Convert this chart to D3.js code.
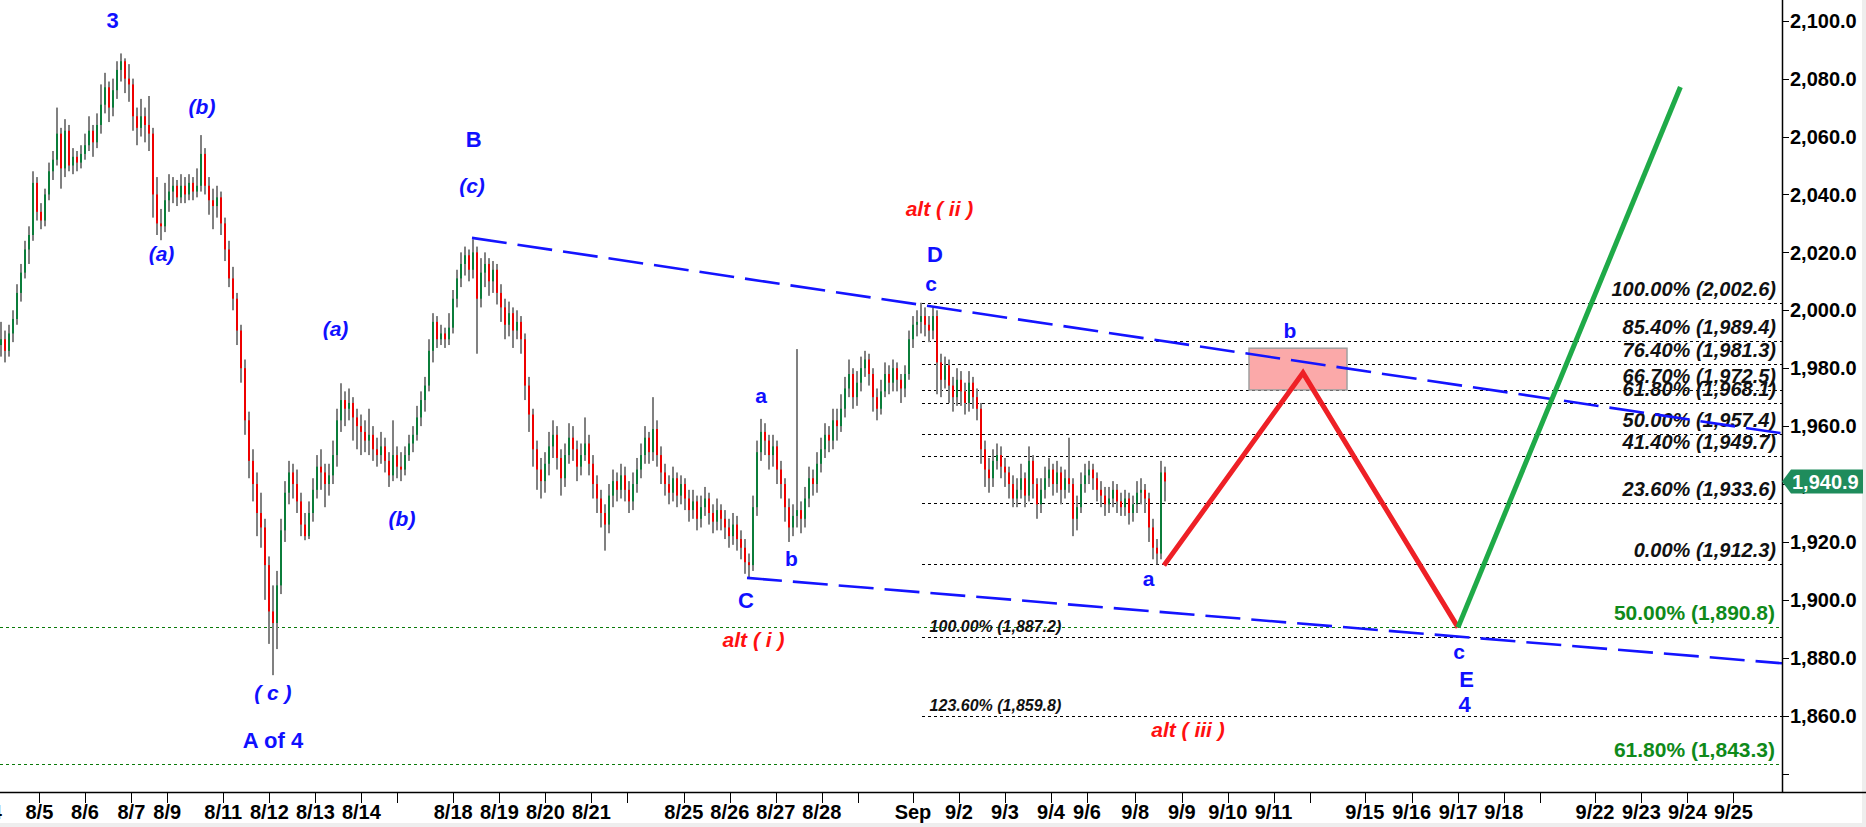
<!DOCTYPE html>
<html><head><meta charset="utf-8">
<script src="https://cdn.jsdelivr.net/npm/d3@7"></script>
<style>
html,body{margin:0;padding:0;background:#fff;overflow:hidden}
text{font-family:"Liberation Sans",Arial,sans-serif;font-weight:bold}
</style></head><body>
<svg id="c" width="1866" height="827"></svg>
<script>
// ---- data: 2-hour candles (open = previous close) ----
const firstOpen = 1988;
const closes = [1990,1986,1992,1997,2006,2013,2021,2026,2044,2034,
 2031,2040,2048,2052,2061,2049,2062,2050,2053,2051,
 2054,2057,2062,2058,2064,2071,2077,2070,2076,2083,
 2086,2080,2078,2067,2063,2067,2064,2061,2040,2030,
 2029,2038,2041,2043,2039,2043,2040,2044,2041,2043,
 2054,2043,2038,2036,2039,2030,2021,2011,2004,1993,
 1980,1962,1948,1940,1930,1925,1912,1896,1892,1905,
 1924,1937,1944,1940,1934,1926,1922,1930,1938,1946,
 1944,1940,1943,1950,1962,1969,1966,1968,1963,1960,
 1958,1955,1957,1952,1950,1953,1948,1943,1950,1946,
 1945,1950,1954,1957,1963,1969,1974,1986,1996,1990,
 1992,1990,1994,2004,2011,2016,2019,2014,2020,2004,
 2013,2016,2010,2014,2006,2001,1995,1999,1993,1996,
 1990,1974,1964,1952,1945,1941,1947,1953,1957,1949,
 1942,1950,1956,1952,1946,1950,1954,1947,1940,1935,
 1930,1926,1936,1941,1938,1943,1938,1934,1940,1945,
 1950,1956,1951,1959,1950,1944,1940,1937,1942,1936,
 1940,1935,1931,1934,1928,1932,1935,1930,1927,1931,
 1928,1925,1922,1926,1921,1918,1913,1912,1932,1951,
 1958,1955,1950,1953,1945,1940,1932,1925,1929,1931,
 1928,1935,1942,1940,1947,1952,1957,1955,1962,1960,
 1966,1973,1978,1970,1975,1980,1983,1978,1970,1966,
 1972,1978,1975,1980,1976,1973,1978,1990,1995,1996,
 1998,1995,1993,1998,1982,1976,1981,1974,1970,1976,
 1972,1968,1975,1970,1966,1952,1945,1942,1948,1950,
 1946,1944,1940,1935,1938,1942,1936,1948,1940,1933,
 1938,1942,1945,1940,1944,1938,1942,1940,1928,1932,
 1940,1943,1945,1942,1938,1936,1933,1935,1938,1934,
 1932,1935,1930,1933,1937,1938,1935,1925,1918,1916,
 1944,1940.9];
const highs = [1996,1993,1995,2000,2009,2016,2024,2029,2048,2046,
 2037,2042,2051,2055,2070,2063,2066,2064,2056,2055,
 2057,2061,2067,2064,2068,2078,2082,2079,2080,2086,
 2088.7,2087,2085,2080,2070,2073,2070,2074,2063,2046,
 2035,2044,2047,2046,2045,2047,2046,2047,2046,2049,
 2060.5,2056,2046,2042,2043,2041,2032,2024,2015,2006,
 1995,1983,1965,1952,1944,1937,1928,1915,1905,1910,
 1928,1941,1948,1947,1945,1937,1930,1934,1942,1950,
 1952,1947,1947,1955,1966,1974.8,1972,1973,1970,1966,
 1964,1962,1966,1960,1956,1958,1956,1951,1962,1953,
 1951,1953,1957,1960,1967,1972,1977,1990,1999,1998,
 1995,1994,1999,2007,2014,2020,2022,2021,2024.5,2022,
 2018,2020,2018,2017,2016,2009,2004,2003,2001,2000,
 1998,1992,1977,1966,1955,1949,1951,1958,1962,1960,
 1952,1954,1961,1960,1955,1954,1963,1957,1950,1943,
 1938,1933,1940,1945,1944,1947,1946,1941,1944,1949,
 1954,1960,1958,1970,1962,1953,1947,1943,1946,1944,
 1943,1942,1938,1938,1936,1936,1939,1937,1933,1935,
 1933,1931,1928,1930,1929,1924,1921,1916,1936,1955,
 1962.5,1961,1957,1957,1955,1948,1942,1935,1933,1986.6,
 1934,1939,1946,1945,1951,1956,1961,1960,1966,1966,
 1971,1977,1983,1980,1979,1984,1986,1985,1980,1973,
 1976,1982,1981,1983,1982,1978,1981,1993,1998,2000,
 2002.6,2001,1998,2001,2000,1985,1984,1983,1977,1980,
 1979,1975,1979,1977,1973,1968,1955,1949,1952,1954,
 1953,1949,1946,1943,1942,1947,1944,1953,1950,1942,
 1942,1946,1949,1947,1948,1946,1945,1956,1942,1936,
 1944,1947,1948,1947,1944,1941,1939,1939,1941,1940,
 1937,1938,1937,1936,1941,1942,1940,1937,1928,1921,
 1948,1946];
const lows = [1984,1982,1984,1989,1995,2003,2011,2016,2024,2031,
 2028,2029,2038,2045,2050,2042,2046,2048,2047,2048,
 2049,2052,2055,2053,2056,2061,2068,2065,2067,2073,
 2079,2075,2072,2062,2057,2060,2058,2055,2032,2026,
 2024.2,2027,2034,2037,2036,2037,2037,2038,2038,2039,
 2041,2040,2033,2028,2032,2026,2017,2008,2000,1988,
 1975,1957,1942,1934,1922,1918,1900,1884.8,1874,1883,
 1902,1920,1933,1935,1930,1922,1920.6,1921,1927,1935,
 1938,1932,1936,1940,1946,1958,1960,1962,1955,1952,
 1950,1951,1950,1948,1946,1947,1944,1939,1941,1942,
 1941,1943,1948,1951,1955,1960,1965,1972,1982,1987,
 1988,1987,1988,1992,2001,2008,2012,2010,2011,1985,
 2001,2008,2005,2006,2002,1996,1990,1991,1987,1990,
 1985,1969,1958,1946,1938,1935,1937,1943,1949,1945,
 1936,1939,1947,1948,1941,1943,1948,1943,1935,1930,
 1925,1917,1923,1932,1934,1935,1934,1930,1931,1937,
 1942,1947,1947,1948,1946,1940,1936,1933,1934,1932,
 1933,1931,1927,1928,1924,1925,1929,1926,1923,1924,
 1924,1921,1918,1919,1917,1914,1909,1907.6,1910,1929,
 1948,1950,1945,1946,1940,1935,1927,1920,1922,1925,
 1923,1925,1932,1936,1937,1944,1949,1951,1952,1955,
 1958,1963,1970,1966,1967,1972,1977,1974,1965,1962,
 1964,1970,1971,1972,1972,1968,1970,1976,1987,1991,
 1992,1991,1989,1990,1971,1970,1973,1968,1965,1967,
 1967,1964,1965,1966,1962,1947,1939,1937,1939,1945,
 1942,1939,1935,1932,1932,1935,1932,1934,1935,1928,
 1930,1935,1939,1936,1937,1933,1935,1937,1922,1924,
 1930,1937,1940,1938,1934,1932,1929,1930,1932,1930,
 1929,1929,1926,1927,1930,1933,1930,1920,1914,1912.3,
 1914,1934];
const hoursPerBar = 2;

// time axis (hours from chart start)
const tickLabels = ["8/4","8/5","8/6","8/7","8/9","8/11","8/12","8/13","8/14","","8/18","8/19","8/20","8/21","","8/25","8/26","8/27","8/28","","Sep","9/2","9/3","9/4","9/6","9/8","9/9","9/10","9/11","","9/15","9/16","9/17","9/18","","9/22","9/23","9/24","9/25"];
const tickHours = [-6,19.7,42.5,65.7,83.6,111.6,134.7,157.7,180.7,198.6,226.6,249.7,272.7,295.7,313.7,341.9,364.9,387.9,410.9,428.8,456.5,479.5,502.5,525.5,543.5,567.6,590.9,613.9,636.8,654.9,682.4,705.8,729.1,751.9,769.8,797.5,820.7,843.7,866.7];
const priceTicks = [1840,1860,1880,1900,1920,1940,1960,1980,2000,2020,2040,2060,2080,2100];

// fibonacci levels
const fibPct = [100,85.4,76.4,66.7,61.8,50,41.4,23.6,0];
const fibVal = [2002.6,1989.4,1981.3,1972.5,1968.1,1957.4,1949.7,1933.6,1912.3];
const extPct = [100,123.6];
const extVal = [1887.2,1859.8];
const grnPct = [50,61.8];
const grnVal = [1890.8,1843.3];
const fibStartHour = 461;

// trend lines & projections  [hour, price]
const upperLine = [[236,2025.0],[891,1957.5]];
const lowerLine = [[373.5,1907.6],[891,1878.1]];
const redPath = [[582,1911.9],[651.5,1978.4],[729,1890.5]];
const greenPath = [[729,1890.5],[840.2,2077.1]];
const zoneHours = [624.5,673.5];
const zonePrices = [1972.5,1986.9];

const waveLabels = [
 {t:"3",h:56.25,p:2097.4,k:"wave"},
 {t:"(b)",h:101,p:2067.8,k:"it"},
 {t:"(a)",h:80.75,p:2017.0,k:"it"},
 {t:"( c )",h:136.4,p:1865.4,k:"it"},
 {t:"A of 4",h:136.5,p:1848.8,k:"wave"},
 {t:"(a)",h:167.75,p:1991.1,k:"it"},
 {t:"(b)",h:201,p:1925.5,k:"it"},
 {t:"B",h:236.8,p:2056.4,k:"wave"},
 {t:"(c)",h:236,p:2040.5,k:"it"},
 {t:"alt ( ii )",h:469.75,p:2032.6,k:"alt"},
 {t:"D",h:467.5,p:2016.8,k:"wave"},
 {t:"c",h:465.5,p:2006.5,k:"minor"},
 {t:"a",h:380.5,p:1968.0,k:"minor"},
 {t:"b",h:395.7,p:1911.7,k:"minor"},
 {t:"C",h:373,p:1897.2,k:"wave"},
 {t:"alt ( i )",h:376.75,p:1883.7,k:"alt"},
 {t:"a",h:574.25,p:1904.8,k:"minor"},
 {t:"b",h:645,p:1990.4,k:"minor"},
 {t:"c",h:729.5,p:1879.6,k:"minor"},
 {t:"E",h:733.25,p:1869.9,k:"wave"},
 {t:"4",h:732.25,p:1861.3,k:"wave"},
 {t:"alt ( iii )",h:594,p:1852.6,k:"alt"}
];

// ---- drawing ----
const svg = d3.select("#c");
const W = 1782, H = 792;
const x = d3.scaleLinear().domain([0,891]).range([0,W]);
const y = d3.scaleLinear().domain([1833.65,2107.15]).range([H,0]);
const fmt1 = d3.format(",.1f"), fmt2 = d3.format(".2f");

// bottom/right grey strips
svg.append("rect").attr("x",0).attr("y",823).attr("width",1866).attr("height",4).attr("fill","#eeeeee");
svg.append("rect").attr("x",1862).attr("y",0).attr("width",4).attr("height",827).attr("fill","#eeeeee");

const plot = svg.append("g");

// green dotted levels across whole chart
grnVal.forEach((v,i)=>{
  plot.append("line").attr("x1",0).attr("x2",W).attr("y1",Math.round(y(v))+0.5).attr("y2",Math.round(y(v))+0.5)
    .attr("stroke","#0a7a0a").attr("stroke-width",1).attr("stroke-dasharray","3,3");
  plot.append("text").attr("x",1775).attr("y",y(v)-7).attr("text-anchor","end")
    .attr("font-size",21).attr("fill","#0f8a1a").text(fmt2(grnPct[i])+"% ("+fmt1(v)+")");
});

// black dotted fib lines
fibVal.concat(extVal).forEach(v=>{
  plot.append("line").attr("x1",x(fibStartHour)).attr("x2",W).attr("y1",Math.round(y(v))+0.5).attr("y2",Math.round(y(v))+0.5)
    .attr("stroke","#000").attr("stroke-width",1).attr("stroke-dasharray","3,3");
});

// pink target zone
plot.append("rect").attr("x",x(zoneHours[0])).attr("y",y(zonePrices[1]))
  .attr("width",x(zoneHours[1])-x(zoneHours[0])).attr("height",y(zonePrices[0])-y(zonePrices[1]))
  .attr("fill","#fba9a9").attr("stroke","#a0a0a0").attr("stroke-width",1.5);

// candles
const bars = closes.map((c,i)=>({h:i*hoursPerBar,o:i?closes[i-1]:firstOpen,c:c,hi:highs[i],lo:lows[i]}));
const cg = plot.append("g");
cg.selectAll(".w").data(bars).enter().append("rect")
  .attr("x",d=>x(d.h)).attr("width",2)
  .attr("y",d=>y(d.hi)).attr("height",d=>Math.max(1,y(d.lo)-y(d.hi)))
  .attr("fill","#808080");
cg.selectAll(".b").data(bars).enter().append("rect")
  .attr("x",d=>x(d.h)).attr("width",2)
  .attr("y",d=>y(Math.max(d.o,d.c))).attr("height",d=>Math.max(1,Math.abs(y(d.o)-y(d.c))))
  .attr("fill",d=>d.c>=d.o?"#0b7d3a":"#ee0000");

// fib labels
fibVal.forEach((v,i)=>{
  plot.append("text").attr("x",1776).attr("y",y(v)-7).attr("text-anchor","end")
    .attr("font-size",20).attr("font-style","italic").attr("fill","#111")
    .text(fmt2(fibPct[i])+"% ("+fmt1(v)+")");
});
extVal.forEach((v,i)=>{
  plot.append("text").attr("x",x(464.8)).attr("y",y(v)-5).attr("text-anchor","start")
    .attr("font-size",16).attr("font-style","italic").attr("fill","#111")
    .text(fmt2(extPct[i])+"% ("+fmt1(v)+")");
});

// trend lines
const ln = d3.line().x(d=>x(d[0])).y(d=>y(d[1]));
[upperLine,lowerLine].forEach(L=>{
  plot.append("path").attr("d",ln(L)).attr("fill","none").attr("stroke","#1414ff")
    .attr("stroke-width",2.6).attr("stroke-dasharray","35,11");
});

// projections
plot.append("path").attr("d",ln(redPath)).attr("fill","none").attr("stroke","#ee2026").attr("stroke-width",5).attr("stroke-linejoin","miter");
plot.append("path").attr("d",ln(greenPath)).attr("fill","none").attr("stroke","#1faa48").attr("stroke-width",5);

// wave labels
const styles = {
  wave:{size:22,italic:false,color:"#1010ff"},
  it:{size:21,italic:true,color:"#1010ff"},
  minor:{size:21,italic:false,color:"#1010ff"},
  alt:{size:21,italic:true,color:"#ff1010"}
};
waveLabels.forEach(d=>{
  const s = styles[d.k];
  plot.append("text").attr("x",x(d.h)).attr("y",y(d.p)).attr("text-anchor","middle")
    .attr("font-size",s.size).attr("font-style",s.italic?"italic":"normal").attr("fill",s.color)
    .attr("xml:space","preserve").style("white-space","pre").text(d.t);
});

// axes
svg.append("line").attr("x1",0).attr("x2",1866).attr("y1",H+0.5).attr("y2",H+0.5).attr("stroke","#000").attr("stroke-width",1.5);
svg.append("line").attr("x1",W+0.5).attr("x2",W+0.5).attr("y1",0).attr("y2",H).attr("stroke","#000").attr("stroke-width",1.5);

const xa = svg.append("g");
tickHours.forEach((h,i)=>{
  const px = Math.round(x(h))+0.5;
  xa.append("line").attr("x1",px).attr("x2",px).attr("y1",H).attr("y2",H+11).attr("stroke","#000").attr("stroke-width",1);
  if(tickLabels[i]) xa.append("text").attr("x",x(h)).attr("y",819).attr("text-anchor","middle")
    .attr("font-size",20).attr("fill","#000").text(tickLabels[i]);
});

const ya = svg.append("g");
priceTicks.forEach(v=>{
  const py = Math.round(y(v))+0.5;
  ya.append("line").attr("x1",W).attr("x2",W+7).attr("y1",py).attr("y2",py).attr("stroke","#000").attr("stroke-width",1);
  if(v>1840) ya.append("text").attr("x",1790).attr("y",y(v)).attr("dy","0.36em")
    .attr("font-size",20).attr("fill","#000").text(fmt1(v));
});

// last price tag
const last = closes[closes.length-1];
const ly = y(last);
svg.append("path").attr("d",`M${W},${ly} L${W+9},${ly-12} L1863,${ly-12} L1863,${ly+12} L${W+9},${ly+12} Z`).attr("fill","#1f8c5c");
svg.append("text").attr("x",1792).attr("y",ly).attr("dy","0.36em").attr("font-size",20).attr("fill","#fff").text(fmt1(last));
</script>
</body></html>
